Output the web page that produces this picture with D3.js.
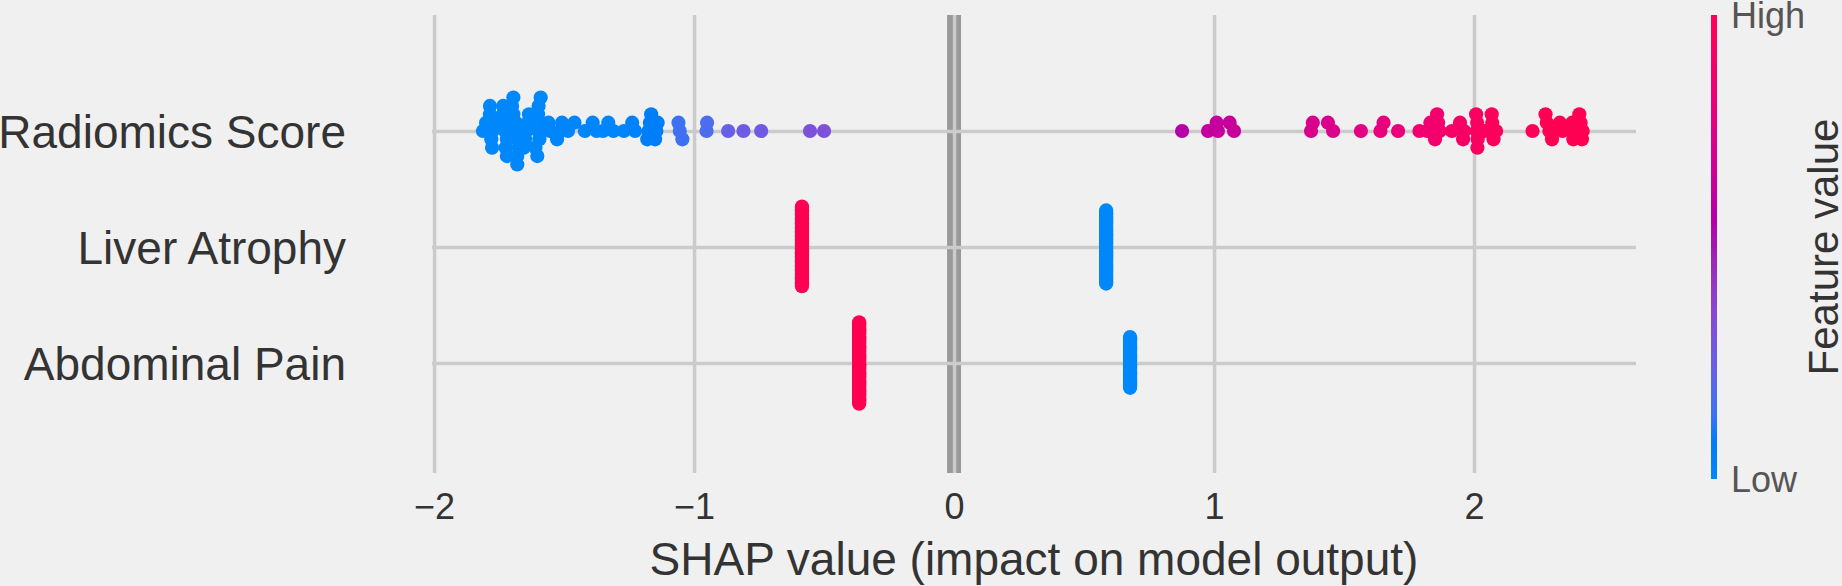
<!DOCTYPE html>
<html>
<head>
<meta charset="utf-8">
<script src="https://cdn.jsdelivr.net/npm/d3@7"></script>
<style>
  html, body { margin: 0; padding: 0; background: #f0f0f0; }
  svg { display: block; font-family: "Liberation Sans", Arial, Helvetica, sans-serif; }
</style>
</head>
<body>
<div id="chart"></div>
<script>

// features, top row first, with their row position on the y axis
var features = ['Radiomics Score', 'Liver Atrophy', 'Abdominal Pain'];
var featurePos = [2, 1, 0];

var xTicks = [-2, -1, 0, 1, 2];
var xLimits = [-2.008, 2.623];
var yLimits = [-1, 3];
var colorTicks = ['Low', 'High'];

// radiomics score: shap value and scaled feature value (0 low .. 1 high)
var radiomicsShap = [
  -1.812, -1.800,
  -1.775, -1.770, -1.780, -1.785, -1.777, -1.785,
  -1.727, -1.730, -1.720, -1.735, -1.725, -1.734, -1.720,
  -1.690, -1.685, -1.680, -1.695, -1.675, -1.700, -1.680, -1.695, -1.680,
  -1.645, -1.640, -1.650, -1.635, -1.655,
  -1.600, -1.605, -1.595, -1.600, -1.610, -1.598, -1.603, -1.590,
  -1.554, -1.560, -1.516, -1.508, -1.527, -1.485, -1.460, -1.420,
  -1.375, -1.390, -1.350, -1.330, -1.310, -1.270,
  -1.227, -1.238,
  -1.175, -1.170, -1.180, -1.165, -1.145, -1.140, -1.150,
  -1.055, -1.060, -1.045, -0.952, -0.950,
  -0.869, -0.810, -0.742, -0.554, -0.500,
  0.877, 0.977, 1.015, 1.010, 1.077, 1.060,
  1.373, 1.380, 1.458, 1.438,
  1.565, 1.640, 1.652, 1.708,
  1.790, 1.820, 1.832, 1.868, 1.862, 1.850, 1.858, 1.915, 1.962, 1.946, 1.958,
  2.010, 2.012, 2.014, 2.008, 2.013, 2.040, 2.085, 2.070, 2.075, 2.068,
  2.225,
  2.290, 2.280, 2.300, 2.275, 2.340, 2.330, 2.380, 2.378, 2.382, 2.418, 2.410, 2.415, 2.405
];
var radiomicsValue = [
  0, 0,
  0, 0, 0, 0, 0, 0,
  0, 0, 0, 0, 0, 0, 0,
  0, 0, 0, 0, 0, 0, 0, 0, 0,
  0, 0, 0, 0, 0,
  0, 0, 0, 0, 0, 0, 0, 0,
  0.02, 0.02, 0.02, 0.02, 0.02, 0.02, 0.02, 0.02,
  0.02, 0.02, 0.02, 0.02, 0.02, 0.02,
  0.04, 0.04,
  0.07, 0.07, 0.07, 0.07, 0.07, 0.07, 0.07,
  0.15, 0.15, 0.15, 0.18, 0.18,
  0.24, 0.26, 0.27, 0.31, 0.32,
  0.57, 0.62, 0.63, 0.63, 0.64, 0.64,
  0.72, 0.72, 0.73, 0.73,
  0.77, 0.80, 0.80, 0.82,
  0.86, 0.87, 0.87, 0.88, 0.88, 0.88, 0.88, 0.90, 0.91, 0.91, 0.91,
  0.94, 0.94, 0.94, 0.94, 0.94, 0.95, 0.96, 0.96, 0.96, 0.96,
  0.98,
  1, 1, 1, 1, 1, 1, 1, 1, 1, 1, 1, 1, 1
];

// binary features: shap value per level, number of patients, feature value
var liverShap = [-0.585, 0.585];
var liverCount = [62, 57];
var liverValue = [1, 0];

var painShap = [-0.365, 0.677];
var painCount = [73, 46];
var painValue = [1, 0];

function expand(vals, counts) {
  var out = [];
  vals.forEach(function(v, i) {
    for (var k = 0; k < counts[i]; k++) out.push(v);
  });
  return out;
}

// shap's red_blue colormap, built in the lch space
function redBlue(t) {
  t = Math.max(0, Math.min(1, t));
  var l = t < 0.5 ? 54 - 28 * t : 40 + 28 * (t - 0.5);
  var c = 70 + 20 * t;
  var h = 266.93 + 113.39 * t;
  return d3.hcl(h, c, l).formatHex();
}

// beeswarm offsets the way shap does it: 100 bins, stack alternately up and down
function swarm(vals, rowHeight) {
  var nbins = 100,
      lo = d3.min(vals),
      hi = d3.max(vals);
  var quant = vals.map(function(v) {
    return hi > lo ? Math.round(nbins * (v - lo) / (hi - lo)) : 0;
  });
  var inds = d3.range(vals.length).sort(function(a, b) { return quant[a] - quant[b]; });
  var ys = vals.map(function() { return 0; });
  var layer = 0, last = null;
  inds.forEach(function(i) {
    if (quant[i] !== last) layer = 0;
    ys[i] = Math.ceil(layer / 2) * ((layer % 2) * 2 - 1);
    layer += 1;
    last = quant[i];
  });
  var m = d3.max(ys) + 1;
  return ys.map(function(y) { return y * 0.9 * (rowHeight / m); });
}

(function() {

  var rows = [
    { shap: radiomicsShap, value: radiomicsValue },
    { shap: expand(liverShap, liverCount), value: expand(liverValue, liverCount) },
    { shap: expand(painShap, painCount), value: expand(painValue, painCount) }
  ];

  var width = 1842,
      height = 586,
      plotLeft = 432,
      plotRight = 1636,
      plotTop = 15,
      plotBottom = 479,
      gridBottom = 473;

  var x = d3.scaleLinear().domain(xLimits).range([plotLeft, plotRight]);
  var y = d3.scaleLinear().domain(yLimits).range([plotBottom, plotTop]);

  var svg = d3.select('#chart').append('svg')
      .attr('width', width)
      .attr('height', height);

  svg.append('rect')
      .attr('width', width)
      .attr('height', height)
      .attr('fill', '#f0f0f0');

  // zero line sits under the grid
  svg.append('line')
      .attr('x1', x(0)).attr('x2', x(0))
      .attr('y1', plotTop).attr('y2', gridBottom)
      .attr('stroke', '#999999')
      .attr('stroke-width', 14);

  var xAxis = svg.append('g')
      .attr('transform', 'translate(0,' + gridBottom + ')')
      .call(d3.axisBottom(x)
          .tickValues(xTicks)
          .tickFormat(d3.format('d'))
          .tickSize(-(gridBottom - plotTop))
          .tickPadding(20));

  var yAxis = svg.append('g')
      .attr('transform', 'translate(' + plotLeft + ',0)')
      .call(d3.axisLeft(y)
          .tickValues(featurePos)
          .tickFormat(function(d, i) { return features[i]; })
          .tickSize(-(plotRight - plotLeft))
          .tickPadding(86));

  [xAxis, yAxis].forEach(function(g) {
    g.attr('font-family', null).attr('font-size', null);
    g.select('.domain').remove();
    g.selectAll('.tick line')
        .attr('stroke', '#cbcbcb')
        .attr('stroke-width', 3.5);
  });

  xAxis.selectAll('.tick text')
      .attr('fill', '#333333')
      .style('font-size', '36px');

  yAxis.selectAll('.tick text')
      .attr('fill', '#333333')
      .attr('dy', '0.36em')
      .style('font-size', '46px');

  svg.append('text')
      .attr('x', (plotLeft + plotRight) / 2)
      .attr('y', 575)
      .attr('text-anchor', 'middle')
      .attr('fill', '#333333')
      .style('font-size', '46px')
      .text('SHAP value (impact on model output)');

  // dots
  var rowHeight = 0.4;
  var dots = svg.append('g');
  rows.forEach(function(row, r) {
    var offs = swarm(row.shap, rowHeight);
    dots.selectAll('.row' + r)
        .data(row.shap)
        .enter().append('circle')
        .attr('class', 'row' + r)
        .attr('cx', function(d) { return x(d); })
        .attr('cy', function(d, i) { return y(featurePos[r] + offs[i]); })
        .attr('r', 7.1)
        .attr('fill', function(d, i) { return redBlue(row.value[i]); });
  });

  // colorbar
  var cbLeft = 1711,
      cbWidth = 6;
  var cb = d3.scaleLinear().domain([0, 1]).range([plotBottom, plotTop]);

  var grad = svg.append('defs').append('linearGradient')
      .attr('id', 'cbGrad')
      .attr('x1', 0).attr('y1', 1)
      .attr('x2', 0).attr('y2', 0);
  grad.selectAll('stop')
      .data(d3.range(0, 1.0001, 0.02))
      .enter().append('stop')
      .attr('offset', function(d) { return d; })
      .attr('stop-color', function(d) { return redBlue(d); });

  svg.append('rect')
      .attr('x', cbLeft)
      .attr('y', cb(1))
      .attr('width', cbWidth)
      .attr('height', cb(0) - cb(1))
      .attr('fill', 'url(#cbGrad)');

  svg.selectAll('.cbtick')
      .data(colorTicks)
      .enter().append('text')
      .attr('class', 'cbtick')
      .attr('x', cbLeft + cbWidth + 14)
      .attr('y', function(d, i) { return cb(i); })
      .attr('dy', '0.36em')
      .attr('fill', '#555555')
      .style('font-size', '36px')
      .text(function(d) { return d; });

  svg.append('text')
      .attr('transform', 'translate(1838,' + ((plotTop + plotBottom) / 2) + ') rotate(-90)')
      .attr('text-anchor', 'middle')
      .attr('fill', '#333333')
      .style('font-size', '42px')
      .text('Feature value');

})();

</script>
</body>
</html>
